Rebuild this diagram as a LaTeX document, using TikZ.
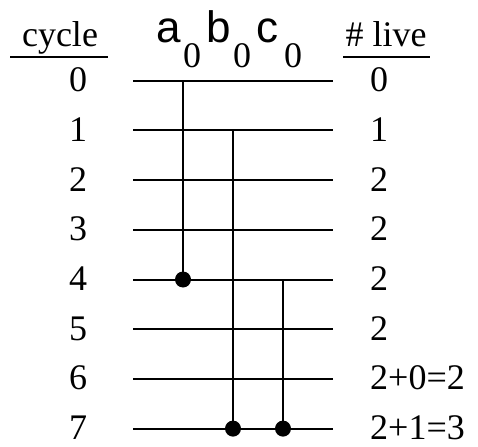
\documentclass[tikz,border=0pt]{standalone}
\usepackage{fontspec}
\setmainfont{Liberation Serif}
\newfontfamily\hdrfont{Liberation Sans}
\begin{document}
\begin{tikzpicture}[x=1pt,y=-1pt,
  txt/.style={font=\fontsize{36}{40}\selectfont, inner sep=0pt, anchor=base},
  big/.style={font=\hdrfont\fontsize{44}{48}\selectfont, inner sep=0pt, anchor=base},
  wire/.style={line width=2pt},
  vwire/.style={line width=2.6pt},
  dot/.style={circle, fill=black, inner sep=0pt, minimum size=16pt}]
\useasboundingbox (0,0) rectangle (478,446);
% rows
\foreach \i in {0,...,7} {
  \pgfmathsetmacro\yy{80.7+49.7*\i}
  \coordinate (l\i) at (133,\yy);
  \coordinate (r\i) at (333,\yy);
  \coordinate (wa\i) at (183,\yy);
  \coordinate (wb\i) at (233,\yy);
  \coordinate (wc\i) at (283,\yy);
  \draw[wire] (l\i) -- (r\i);
  \node[txt] (cy\i) at (78,\yy+11) {\i};
}
\foreach \v [count=\i from 0] in {0,1,2,2,2,2,2+0=2,2+1=3} {
  \pgfmathsetmacro\yy{80.7+49.7*\i}
  \node[txt, anchor=base west] (lv\i) at (370,\yy+11) {\v};
}
% headers
\node[txt] (hcyc) at (60,47) {cycle};
\coordinate (ucl) at (10,57);
\coordinate (ucr) at (108,57);
\draw[wire] (ucl) -- (ucr);
\node[txt] (hlive) at (386,47) {\# live};
\coordinate (ull) at (343,57);
\coordinate (ulr) at (430,57);
\draw[wire] (ull) -- (ulr);
\node[big] (ha) at (169,43) {a};
\node[txt] (sa) at (192,68) {0};
\node[big] (hb) at (219,43) {b};
\node[txt] (sb) at (242,68) {0};
\node[big] (hc) at (267,43) {c};
\node[txt] (sc) at (293,68) {0};
% lifetimes
\draw[vwire] (wa0) -- (wa4);
\draw[vwire] (wb1) -- (wb7);
\draw[vwire] (wc4) -- (wc7);
\node[dot] (da) at (wa4) {};
\node[dot] (db) at (wb7) {};
\node[dot] (dc) at (wc7) {};
\end{tikzpicture}
\end{document}
